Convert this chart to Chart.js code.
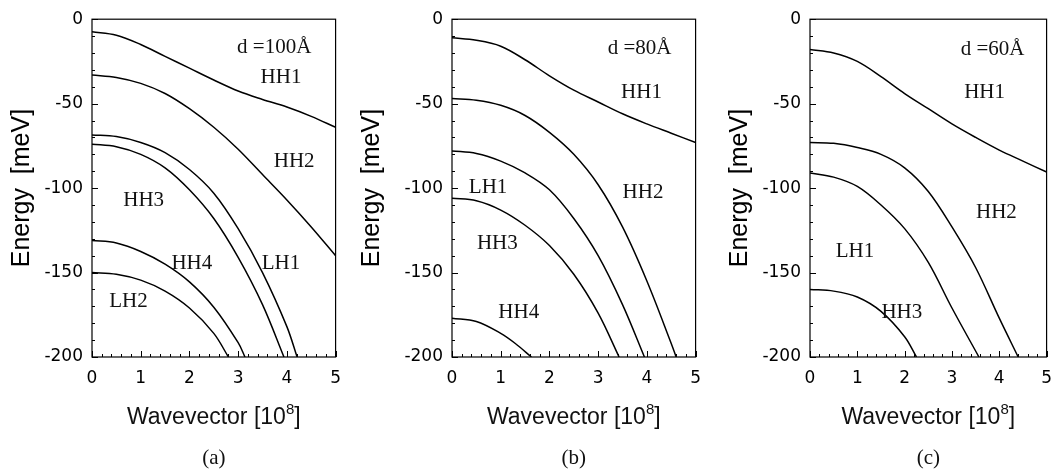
<!DOCTYPE html>
<html><head><meta charset="utf-8">
<script src="https://cdn.jsdelivr.net/npm/chart.js@4.4.1/dist/chart.umd.min.js"></script>
<style>
body{margin:0;background:#fff;width:1063px;height:469px;overflow:hidden;position:relative}
canvas{position:absolute;top:0}
</style></head><body>
<canvas id="ca" width="352" height="469" style="left:0px"></canvas>
<canvas id="cb" width="360" height="469" style="left:352px"></canvas>
<canvas id="cc" width="351" height="469" style="left:712px"></canvas>
<script>
// ---------- axis ticks ----------
const xTicks = [0, 1, 2, 3, 4, 5];
const yTicks = [0, -50, -100, -150, -200];

// ---------- panel (a): d = 100 Å ----------
const a_HH1_k = [0, 0.5, 1, 1.5, 2, 2.5, 3, 3.5, 4, 4.5, 5];
const a_HH1_E = [-7.5, -9.5, -15, -22, -29, -36, -42.5, -47.5, -52, -57.5, -64];
const a_HH2_k = [0, 0.5, 1, 1.5, 2, 2.5, 3, 3.5, 4, 4.5, 5];
const a_HH2_E = [-33, -34.5, -38, -44, -53, -64, -77, -92, -107, -123, -140];
const a_LH1_k = [0, 0.5, 1, 1.5, 2, 2.5, 3, 3.5, 4, 4.21];
const a_LH1_E = [-68.5, -69.5, -73, -79, -89, -103, -124, -150, -182, -200];
const a_HH3_k = [0, 0.5, 1, 1.5, 2, 2.5, 3, 3.5, 3.94];
const a_HH3_E = [-74, -75.5, -80, -88, -101, -118, -141, -169, -200];
const a_HH4_k = [0, 0.5, 1, 1.5, 2, 2.5, 3, 3.14];
const a_HH4_E = [-131, -132.5, -137.5, -145, -155.5, -170.5, -191.5, -200];
const a_LH2_k = [0, 0.5, 1, 1.5, 2, 2.5, 2.8];
const a_LH2_E = [-150, -151, -154.5, -161, -171, -186, -200];
const a_text = ['d =100Å', 'HH1', 'HH2', 'HH3', 'HH4', 'LH1', 'LH2'];
const a_textK = [3.74, 3.88, 4.15, 1.06, 2.05, 3.88, 0.75];
const a_textE = [-17, -34.7, -84, -107.6, -144.7, -144.7, -167];

// ---------- panel (b): d = 80 Å ----------
const b_HH1_k = [0, 0.5, 1, 1.5, 2, 2.5, 3, 3.5, 4, 4.5, 5];
const b_HH1_E = [-11, -12.5, -16, -24, -33.5, -42, -49, -56, -62, -67.5, -73];
const b_HH2_k = [0, 0.5, 1, 1.5, 2, 2.5, 3, 3.5, 4, 4.5, 4.6];
const b_HH2_E = [-47, -48, -51, -57, -67, -80, -98, -123, -155, -192, -200];
const b_LH1_k = [0, 0.5, 1, 1.5, 2, 2.5, 3, 3.5, 3.95];
const b_LH1_E = [-78, -79.5, -84, -91, -101, -118, -140, -169, -200];
const b_HH3_k = [0, 0.5, 1, 1.5, 2, 2.5, 3, 3.43];
const b_HH3_E = [-106, -107.5, -113, -122, -134, -151, -174, -200];
const b_HH4_k = [0, 0.5, 1, 1.3, 1.63];
const b_HH4_E = [-177, -179, -186, -192, -200];
const b_text = ['d =80Å', 'HH1', 'HH2', 'LH1', 'HH3', 'HH4'];
const b_textK = [3.85, 3.89, 3.92, 0.74, 0.93, 1.37];
const b_textE = [-17.3, -43.4, -102.5, -99.5, -132.5, -173.4];

// ---------- panel (c): d = 60 Å ----------
const c_HH1_k = [0, 0.5, 1, 1.5, 2, 2.5, 3, 3.5, 4, 4.5, 5];
const c_HH1_E = [-18, -20, -25, -34, -44, -53, -62, -70, -77.5, -84, -90.5];
const c_HH2_k = [0, 0.5, 1, 1.5, 2, 2.5, 3, 3.5, 4, 4.4];
const c_HH2_E = [-73, -73.5, -76, -80, -88, -102, -123, -147, -177, -200];
const c_LH1_k = [0, 0.5, 1, 1.5, 2, 2.5, 3, 3.57];
const c_LH1_E = [-91, -93.5, -99, -110, -124, -144, -171, -200];
const c_HH3_k = [0, 0.5, 1, 1.5, 2, 2.25];
const c_HH3_E = [-160, -161, -164.5, -173, -188, -200];
const c_text = ['d =60Å', 'HH1', 'HH2', 'LH1', 'HH3'];
const c_textK = [3.86, 3.69, 3.94, 0.95, 1.94];
const c_textE = [-17.7, -43.4, -114.3, -137.4, -173.9];

const panelTags = ['(a)', '(b)', '(c)'];

function pts(ks, es) { return ks.map((k, i) => ({x: k, y: es[i]})); }
function ds(name, ks, es) {
  return {label: name, data: pts(ks, es), borderColor: '#000', borderWidth: 1.5,
          pointRadius: 0, fill: false, tension: 0.35};
}

const deco = {
  id: 'deco',
  afterDraw(chart, args, o) {
    const ctx = chart.ctx, ca = chart.chartArea, sx = chart.scales.x, sy = chart.scales.y;
    ctx.save();
    ctx.strokeStyle = '#000';
    ctx.lineWidth = 1;
    ctx.beginPath();
    for (let i = 0; i <= 20; i++) {
      const v = -i * 10, py = Math.round(sy.getPixelForValue(v)) + 0.5;
      const len = (i % 5 === 0) ? 6 : 3;
      ctx.moveTo(ca.left, py); ctx.lineTo(ca.left + len, py);
    }
    for (let i = 0; i <= 25; i++) {
      const v = i * 0.2, px = Math.round(sx.getPixelForValue(v)) + 0.5;
      const len = (i % 5 === 0) ? 6 : 3;
      ctx.moveTo(px, ca.bottom); ctx.lineTo(px, ca.bottom - len);
    }
    ctx.stroke();
    ctx.lineWidth = 1.2;
    ctx.strokeRect(ca.left, ca.top, ca.right - ca.left, ca.bottom - ca.top);
    // curve labels
    ctx.fillStyle = '#111';
    ctx.font = '21px "Liberation Serif"';
    ctx.textAlign = 'center';
    ctx.textBaseline = 'middle';
    o.text.forEach((t, i) => ctx.fillText(t, sx.getPixelForValue(o.tk[i]), sy.getPixelForValue(o.te[i])));
    // x axis title with superscript
    const cx = (ca.left + ca.right) / 2;
    ctx.textAlign = 'left';
    ctx.textBaseline = 'alphabetic';
    const f1 = '23px "Liberation Sans"', f2 = '15px "Liberation Sans"';
    const s1 = 'Wavevector [10', s2 = '8', s3 = ']';
    ctx.font = f1; const w1 = ctx.measureText(s1).width, w3 = ctx.measureText(s3).width;
    ctx.font = f2; const w2 = ctx.measureText(s2).width;
    let x0 = cx - (w1 + w2 + w3) / 2;
    ctx.font = f1; ctx.fillText(s1, x0, 424);
    ctx.font = f2; ctx.fillText(s2, x0 + w1, 414);
    ctx.font = f1; ctx.fillText(s3, x0 + w1 + w2, 424);
    // panel tag
    ctx.font = '21px "Liberation Serif"';
    ctx.textAlign = 'center';
    ctx.fillText(o.tag, cx, 464);
    ctx.restore();
  }
};

function makeChart(id, sets, yWidth, padTop, padRight, titlePad, text, tk, te, tag) {
  return new Chart(document.getElementById(id), {
    type: 'line',
    data: {datasets: sets},
    plugins: [deco],
    options: {
      responsive: false, animation: false, devicePixelRatio: 1,
      layout: {padding: {top: padTop, right: padRight, left: 0, bottom: 0}},
      plugins: {legend: {display: false}, tooltip: {enabled: false},
                deco: {text: text, tk: tk, te: te, tag: tag}},
      scales: {
        x: {type: 'linear', min: 0, max: 5,
            grid: {display: false, drawTicks: false}, border: {display: false},
            afterBuildTicks: s => { s.ticks = xTicks.map(v => ({value: v})); },
            afterFit: s => { s.height = 112; },
            ticks: {color: '#000', padding: 11, font: {family: 'DejaVu Sans', size: 17}}},
        y: {type: 'linear', min: -200, max: 0,
            grid: {display: false, drawTicks: false}, border: {display: false},
            afterBuildTicks: s => { s.ticks = yTicks.map(v => ({value: v})); },
            afterFit: s => { s.width = yWidth; },
            ticks: {color: '#000', padding: 9, font: {family: 'DejaVu Sans', size: 17}},
            title: {display: true, text: 'Energy  [meV]', color: '#000',
                    font: {family: 'Liberation Sans', size: 25}, padding: {top: titlePad, bottom: 0}}}
      }
    }
  });
}

makeChart('ca', [
  ds('HH1', a_HH1_k, a_HH1_E), ds('HH2', a_HH2_k, a_HH2_E), ds('LH1', a_LH1_k, a_LH1_E),
  ds('HH3', a_HH3_k, a_HH3_E), ds('HH4', a_HH4_k, a_HH4_E), ds('LH2', a_LH2_k, a_LH2_E)
], 92, 17, 14, 7, a_text, a_textK, a_textE, panelTags[0]);

makeChart('cb', [
  ds('HH1', b_HH1_k, b_HH1_E), ds('HH2', b_HH2_k, b_HH2_E), ds('LH1', b_LH1_k, b_LH1_E),
  ds('HH3', b_HH3_k, b_HH3_E), ds('HH4', b_HH4_k, b_HH4_E)
], 100, 18, 15, 5, b_text, b_textK, b_textE, panelTags[1]);

makeChart('cc', [
  ds('HH1', c_HH1_k, c_HH1_E), ds('HH2', c_HH2_k, c_HH2_E), ds('LH1', c_LH1_k, c_LH1_E),
  ds('HH3', c_HH3_k, c_HH3_E)
], 98, 18, 8, 13, c_text, c_textK, c_textE, panelTags[2]);
</script>
</body></html>
